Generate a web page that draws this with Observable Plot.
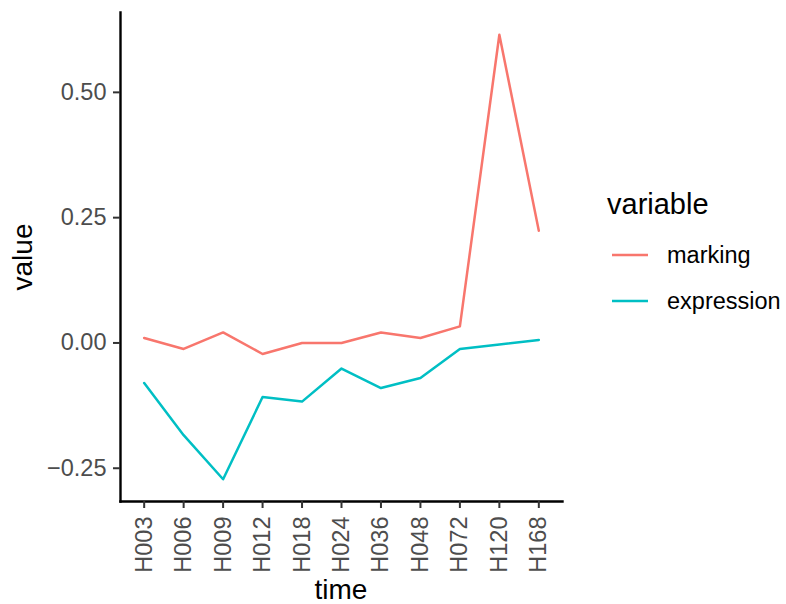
<!DOCTYPE html>
<html><head><meta charset="utf-8">
<script src="https://cdn.jsdelivr.net/npm/d3@7"></script>
<script src="https://cdn.jsdelivr.net/npm/@observablehq/plot@0.6"></script>
<style>
body{margin:0;background:#fff;font-family:"Liberation Sans",Arial,sans-serif}
#wrap{position:relative;width:786px;height:604px}
#wrap svg.overlay{position:absolute;left:0;top:0;pointer-events:none}
</style></head><body>
<div id="wrap"></div>
<script>
const times = ["H003","H006","H009","H012","H018","H024","H036","H048","H072","H120","H168"];
const marking = [0.010,-0.012,0.021,-0.022,0.000,0.000,0.021,0.010,0.033,0.615,0.224];
const expression = [-0.080,-0.184,-0.272,-0.108,-0.117,-0.051,-0.090,-0.070,-0.012,-0.003,0.006];
const variables = ["marking","expression"];
const colors = ["#F8766D","#00BFC4"];
const yTicks = [-0.25,0,0.25,0.5];
const xTitle = "time", yTitle = "value", legendTitle = "variable";

const data = [];
times.forEach((t,i)=>{
  data.push({time:t, variable:"marking", value:marking[i]});
  data.push({time:t, variable:"expression", value:expression[i]});
});
const ext = d3.extent(data, d=>d.value);
const pad = (ext[1]-ext[0])*0.05;
const yDomain = [ext[0]-pad, ext[1]+pad];

const chart = Plot.plot({
  width: 786, height: 604,
  marginLeft: 120, marginRight: 224, marginTop: 12, marginBottom: 103,
  style: {fontSize: "23.5px", fontFamily: '"Liberation Sans", Arial, sans-serif', background: "#fff"},
  x: {type: "point", domain: times, padding: 0.6, round: false, label: null},
  y: {domain: yDomain, label: null},
  color: {domain: variables, range: colors},
  marks: [
    Plot.frame({anchor: "left", stroke: "#000", strokeWidth: 2.4}),
    Plot.frame({anchor: "bottom", stroke: "#000", strokeWidth: 2.4}),
    Plot.axisY({ticks: yTicks, tickFormat: d3.format(".2f"), tickSize: 7, tickPadding: 7, stroke: "#333", strokeWidth: 2, fill: "#4d4d4d", fontSize: 23.5, label: null}),
    Plot.axisX({tickRotate: -90, tickSize: 7, tickPadding: 8, stroke: "#333", strokeWidth: 2, fill: "#4d4d4d", fontSize: 23.5, label: null}),
    Plot.line(data, {x: "time", y: "value", stroke: "variable", z: "variable", strokeWidth: 2.5})
  ]
});
const wrap = document.getElementById("wrap");
wrap.appendChild(chart);

const ov = d3.select(wrap).append("svg").attr("class","overlay").attr("width",786).attr("height",604)
  .style("font-family",'"Liberation Sans", Arial, sans-serif');
ov.append("text").attr("x",341).attr("y",599).attr("text-anchor","middle").attr("font-size",28).attr("fill","#000").text(xTitle);
ov.append("text").attr("transform","translate(32,257) rotate(-90)").attr("text-anchor","middle").attr("font-size",28).attr("fill","#000").text(yTitle);
ov.append("text").attr("x",607).attr("y",214).attr("font-size",29).attr("fill","#000").text(legendTitle);
variables.forEach((v,i)=>{
  const y = 255 + i*46;
  ov.append("line").attr("x1",612).attr("x2",648).attr("y1",y).attr("y2",y).attr("stroke",colors[i]).attr("stroke-width",2.5);
  ov.append("text").attr("x",667).attr("y",y).attr("dy","0.35em").attr("font-size",23.5).attr("fill","#000").text(v);
});
</script>
</body></html>
